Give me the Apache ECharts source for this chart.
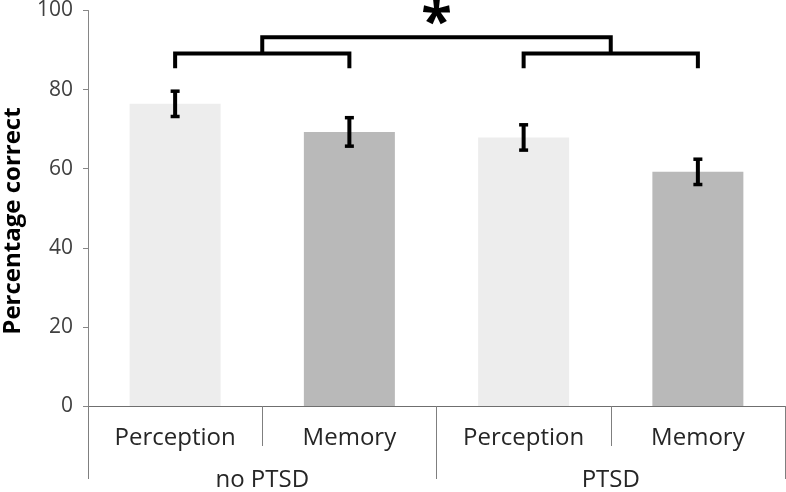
<!DOCTYPE html>
<html>
<head>
<meta charset="utf-8">
<script src="https://cdn.jsdelivr.net/npm/echarts@6/dist/echarts.min.js"></script>
<style>html,body{margin:0;padding:0;background:#fff}#c{width:786px;height:492px}</style>
</head>
<body>
<div id="c"></div>
<script>
const categories = ['Perception', 'Memory', 'Perception', 'Memory'];
const groups = ['no PTSD', 'PTSD'];
const means = [76.4, 69.3, 67.9, 59.2];
const errors = [3.2, 3.6, 3.2, 3.2];
const yTicks = [0, 20, 40, 60, 80, 100];
// significance brackets: [leftCategory, rightCategory]
const bracketPairs = [[0, 1], [2, 3]];
const bracketLevel = 89.1;
const bracketLegBottom = 85.4;
const bracketTopLevel = 93.25;
const starLevel = 96.6;
const starText = '*';

const barColors = ['#ededed', '#b9b9b9', '#ededed', '#b9b9b9'];
const FONT = '"Open Sans", sans-serif';

const chart = echarts.init(document.getElementById('c'), null, {renderer: 'canvas'});

const option = {
  animation: false,
  grid: {left: 88, right: 1, top: 9, bottom: 86, containLabel: false},
  xAxis: [
    {
      type: 'category', data: categories, position: 'bottom',
      axisLine: {show: true, lineStyle: {color: '#6f6f6f', width: 1}},
      axisTick: {show: true, length: 40, interval: 0, lineStyle: {color: '#7f7f7f', width: 1}},
      axisLabel: {interval: 0, margin: 20, color: '#262626', fontFamily: FONT, fontSize: 24}
    },
    {
      type: 'category', data: groups, position: 'bottom',
      axisLine: {show: false},
      axisTick: {show: true, length: 73, interval: 0, lineStyle: {color: '#7f7f7f', width: 1}},
      axisLabel: {interval: 0, margin: 62, color: '#262626', fontFamily: FONT, fontSize: 24}
    }
  ],
  yAxis: {
    type: 'value', min: yTicks[0], max: yTicks[yTicks.length - 1], interval: 20,
    axisLine: {show: true, lineStyle: {color: '#868686'}},
    axisTick: {show: true, length: 5, lineStyle: {color: '#868686'}},
    splitLine: {show: false},
    axisLabel: {margin: 15, color: '#404040', fontFamily: FONT, fontSize: 21}
  },
  graphic: [{
    type: 'text', x: 13, y: 221, rotation: Math.PI / 2,
    style: {text: 'Percentage correct', font: 'bold 24px "Open Sans", sans-serif',
      fill: '#000', textAlign: 'center', textVerticalAlign: 'middle'}
  }],
  series: [
    {
      type: 'bar', xAxisIndex: 0, barWidth: 91,
      data: means.map((v, i) => ({value: v, itemStyle: {color: barColors[i]}}))
    },
    {
      type: 'custom', xAxisIndex: 0,
      data: means.map((m, i) => [i, m - errors[i], m + errors[i]]),
      renderItem: function (params, api) {
        const lo = api.coord([api.value(0), api.value(1)]);
        const hi = api.coord([api.value(0), api.value(2)]);
        const x = lo[0], cw = 9, ch = 3.5, sw = 4;
        return {type: 'group', children: [
          {type: 'rect', shape: {x: x - sw / 2, y: hi[1], width: sw, height: lo[1] - hi[1]}, style: {fill: '#000'}},
          {type: 'rect', shape: {x: x - cw / 2, y: hi[1] - ch / 2, width: cw, height: ch}, style: {fill: '#000'}},
          {type: 'rect', shape: {x: x - cw / 2, y: lo[1] - ch / 2, width: cw, height: ch}, style: {fill: '#000'}}
        ]};
      },
      z: 5
    },
    {
      type: 'custom', xAxisIndex: 0,
      data: [0],
      renderItem: function (params, api) {
        const lw = 4;
        const style = {stroke: '#000', lineWidth: lw, fill: null, lineJoin: 'miter', lineCap: 'butt'};
        const children = [];
        const mids = [];
        bracketPairs.forEach(p => {
          const a = api.coord([p[0], bracketLegBottom]);
          const b = api.coord([p[1], bracketLegBottom]);
          const yl = api.coord([p[0], bracketLevel])[1];
          children.push({type: 'polyline', shape: {points: [[a[0], a[1]], [a[0], yl], [b[0], yl], [b[0], b[1]]]}, style: style});
          mids.push((a[0] + b[0]) / 2);
        });
        const yl = api.coord([0, bracketLevel])[1];
        const yt = api.coord([0, bracketTopLevel])[1];
        children.push({type: 'polyline', shape: {points: [[mids[0], yl], [mids[0], yt], [mids[1], yt], [mids[1], yl]]}, style: style});
        const ys = api.coord([0, starLevel])[1];
        children.push({type: 'text', x: (mids[0] + mids[1]) / 2, y: ys,
          style: {text: starText, font: 'bold 56px "Open Sans", sans-serif', fill: '#000', textAlign: 'center', textVerticalAlign: 'middle'}});
        return {type: 'group', children: children};
      },
      z: 6
    }
  ]
};
chart.setOption(option);
</script>
</body>
</html>
